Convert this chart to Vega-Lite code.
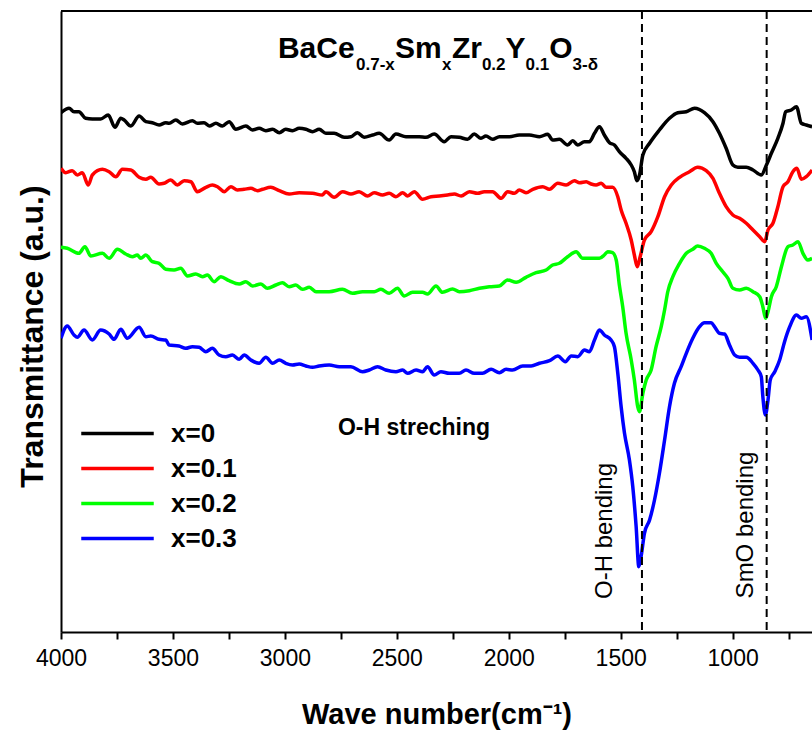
{
 "$schema": "https://vega.github.io/schema/vega-lite/v6.json",
 "width": 751, "height": 621,
 "autosize": "none",
 "padding": {"left": 61, "top": 11, "right": 0, "bottom": 99},
 "config": {"view": {"stroke": null}, "font": "Liberation Sans"},
 "datasets": {
  "spectra": [
{"s":"x=0","wn":4000,"t":519.3},{"s":"x=0","wn":3964,"t":523.7},{"s":"x=0","wn":3942,"t":520.3},{"s":"x=0","wn":3920,"t":520.3},{"s":"x=0","wn":3890,"t":513.7},{"s":"x=0","wn":3860,"t":513},{"s":"x=0","wn":3823,"t":513},{"s":"x=0","wn":3789,"t":517},{"s":"x=0","wn":3759,"t":504.7},{"s":"x=0","wn":3733,"t":513.7},{"s":"x=0","wn":3718,"t":512},{"s":"x=0","wn":3688,"t":506},{"s":"x=0","wn":3651,"t":516},{"s":"x=0","wn":3621,"t":510.3},{"s":"x=0","wn":3592,"t":509.3},{"s":"x=0","wn":3562,"t":507},{"s":"x=0","wn":3532,"t":509.3},{"s":"x=0","wn":3517,"t":508.7},{"s":"x=0","wn":3487,"t":512},{"s":"x=0","wn":3458,"t":508},{"s":"x=0","wn":3413,"t":511.3},{"s":"x=0","wn":3391,"t":508.7},{"s":"x=0","wn":3361,"t":509.3},{"s":"x=0","wn":3338,"t":506},{"s":"x=0","wn":3308,"t":508.7},{"s":"x=0","wn":3279,"t":506},{"s":"x=0","wn":3249,"t":510.3},{"s":"x=0","wn":3219,"t":502.7},{"s":"x=0","wn":3174,"t":506},{"s":"x=0","wn":3145,"t":502},{"s":"x=0","wn":3115,"t":503.7},{"s":"x=0","wn":3085,"t":501.3},{"s":"x=0","wn":3055,"t":502.7},{"s":"x=0","wn":3025,"t":499.3},{"s":"x=0","wn":2996,"t":502.7},{"s":"x=0","wn":2966,"t":501.3},{"s":"x=0","wn":2936,"t":503.7},{"s":"x=0","wn":2906,"t":502.7},{"s":"x=0","wn":2877,"t":500.3},{"s":"x=0","wn":2847,"t":502.7},{"s":"x=0","wn":2817,"t":498.7},{"s":"x=0","wn":2780,"t":498.7},{"s":"x=0","wn":2735,"t":494.7},{"s":"x=0","wn":2705,"t":495.3},{"s":"x=0","wn":2676,"t":499.3},{"s":"x=0","wn":2646,"t":494.7},{"s":"x=0","wn":2608,"t":497},{"s":"x=0","wn":2579,"t":498.7},{"s":"x=0","wn":2534,"t":492},{"s":"x=0","wn":2504,"t":498},{"s":"x=0","wn":2459,"t":495.3},{"s":"x=0","wn":2400,"t":495.3},{"s":"x=0","wn":2370,"t":494.7},{"s":"x=0","wn":2333,"t":498},{"s":"x=0","wn":2288,"t":490.3},{"s":"x=0","wn":2258,"t":495.3},{"s":"x=0","wn":2221,"t":494.7},{"s":"x=0","wn":2184,"t":492.7},{"s":"x=0","wn":2154,"t":498},{"s":"x=0","wn":2124,"t":493.7},{"s":"x=0","wn":2102,"t":496},{"s":"x=0","wn":2072,"t":492.7},{"s":"x=0","wn":2042,"t":495.3},{"s":"x=0","wn":1997,"t":495.3},{"s":"x=0","wn":1953,"t":497},{"s":"x=0","wn":1908,"t":497},{"s":"x=0","wn":1863,"t":495.3},{"s":"x=0","wn":1826,"t":497.7},{"s":"x=0","wn":1804,"t":492},{"s":"x=0","wn":1774,"t":492.7},{"s":"x=0","wn":1737,"t":487},{"s":"x=0","wn":1714,"t":491.3},{"s":"x=0","wn":1692,"t":487},{"s":"x=0","wn":1662,"t":490.3},{"s":"x=0","wn":1640,"t":490.3},{"s":"x=0","wn":1617,"t":498.7},{"s":"x=0","wn":1595,"t":505.3},{"s":"x=0","wn":1573,"t":497},{"s":"x=0","wn":1550,"t":489.3},{"s":"x=0","wn":1528,"t":487},{"s":"x=0","wn":1506,"t":480.3},{"s":"x=0","wn":1476,"t":473.7},{"s":"x=0","wn":1453,"t":467},{"s":"x=0","wn":1439,"t":460.3},{"s":"x=0","wn":1428,"t":451.3},{"s":"x=0","wn":1416,"t":457},{"s":"x=0","wn":1401,"t":477},{"s":"x=0","wn":1371,"t":488.7},{"s":"x=0","wn":1327,"t":502},{"s":"x=0","wn":1282,"t":513.7},{"s":"x=0","wn":1245,"t":519.3},{"s":"x=0","wn":1207,"t":520.3},{"s":"x=0","wn":1170,"t":523.7},{"s":"x=0","wn":1126,"t":519.3},{"s":"x=0","wn":1088,"t":510.3},{"s":"x=0","wn":1059,"t":498.7},{"s":"x=0","wn":1029,"t":483.7},{"s":"x=0","wn":999,"t":467},{"s":"x=0","wn":977,"t":464.7},{"s":"x=0","wn":939,"t":464.7},{"s":"x=0","wn":909,"t":462},{"s":"x=0","wn":872,"t":457},{"s":"x=0","wn":849,"t":467},{"s":"x=0","wn":827,"t":478.7},{"s":"x=0","wn":798,"t":493.7},{"s":"x=0","wn":775,"t":508.7},{"s":"x=0","wn":763,"t":520.3},{"s":"x=0","wn":738,"t":522},{"s":"x=0","wn":715,"t":525.3},{"s":"x=0","wn":693,"t":508.7},{"s":"x=0","wn":671,"t":507},{"s":"x=0","wn":645,"t":505.3},
{"s":"x=0.1","wn":4000,"t":463.7},{"s":"x=0.1","wn":3979,"t":459.3},{"s":"x=0.1","wn":3950,"t":461.3},{"s":"x=0.1","wn":3927,"t":457},{"s":"x=0.1","wn":3905,"t":459.3},{"s":"x=0.1","wn":3878,"t":447},{"s":"x=0.1","wn":3860,"t":457},{"s":"x=0.1","wn":3815,"t":462.7},{"s":"x=0.1","wn":3785,"t":460.3},{"s":"x=0.1","wn":3755,"t":455.3},{"s":"x=0.1","wn":3726,"t":462.7},{"s":"x=0.1","wn":3688,"t":462},{"s":"x=0.1","wn":3651,"t":454.7},{"s":"x=0.1","wn":3621,"t":452.7},{"s":"x=0.1","wn":3599,"t":454.7},{"s":"x=0.1","wn":3562,"t":448},{"s":"x=0.1","wn":3540,"t":448.7},{"s":"x=0.1","wn":3510,"t":452},{"s":"x=0.1","wn":3480,"t":447},{"s":"x=0.1","wn":3450,"t":451.3},{"s":"x=0.1","wn":3420,"t":450.3},{"s":"x=0.1","wn":3391,"t":440.3},{"s":"x=0.1","wn":3353,"t":444.7},{"s":"x=0.1","wn":3324,"t":447},{"s":"x=0.1","wn":3301,"t":445.3},{"s":"x=0.1","wn":3271,"t":440.3},{"s":"x=0.1","wn":3241,"t":445.3},{"s":"x=0.1","wn":3212,"t":442},{"s":"x=0.1","wn":3182,"t":442.7},{"s":"x=0.1","wn":3152,"t":443.7},{"s":"x=0.1","wn":3122,"t":441.3},{"s":"x=0.1","wn":3100,"t":442.7},{"s":"x=0.1","wn":3063,"t":444.7},{"s":"x=0.1","wn":3025,"t":441.3},{"s":"x=0.1","wn":2981,"t":438},{"s":"x=0.1","wn":2936,"t":439.3},{"s":"x=0.1","wn":2877,"t":438.7},{"s":"x=0.1","wn":2832,"t":437},{"s":"x=0.1","wn":2817,"t":440.3},{"s":"x=0.1","wn":2780,"t":434.7},{"s":"x=0.1","wn":2742,"t":440.3},{"s":"x=0.1","wn":2705,"t":438},{"s":"x=0.1","wn":2668,"t":440.3},{"s":"x=0.1","wn":2631,"t":436},{"s":"x=0.1","wn":2601,"t":439.3},{"s":"x=0.1","wn":2564,"t":437},{"s":"x=0.1","wn":2534,"t":438.7},{"s":"x=0.1","wn":2504,"t":435.3},{"s":"x=0.1","wn":2474,"t":439.3},{"s":"x=0.1","wn":2452,"t":436},{"s":"x=0.1","wn":2422,"t":440.3},{"s":"x=0.1","wn":2385,"t":432.7},{"s":"x=0.1","wn":2347,"t":435.3},{"s":"x=0.1","wn":2310,"t":436},{"s":"x=0.1","wn":2273,"t":437},{"s":"x=0.1","wn":2243,"t":438},{"s":"x=0.1","wn":2213,"t":436},{"s":"x=0.1","wn":2176,"t":440.3},{"s":"x=0.1","wn":2139,"t":438.7},{"s":"x=0.1","wn":2109,"t":440.3},{"s":"x=0.1","wn":2072,"t":440.3},{"s":"x=0.1","wn":2034,"t":433.7},{"s":"x=0.1","wn":2005,"t":440.3},{"s":"x=0.1","wn":1975,"t":438.7},{"s":"x=0.1","wn":1953,"t":442},{"s":"x=0.1","wn":1923,"t":439.3},{"s":"x=0.1","wn":1893,"t":442.7},{"s":"x=0.1","wn":1848,"t":445.3},{"s":"x=0.1","wn":1818,"t":442.7},{"s":"x=0.1","wn":1781,"t":448.7},{"s":"x=0.1","wn":1744,"t":447},{"s":"x=0.1","wn":1707,"t":451.3},{"s":"x=0.1","wn":1684,"t":449.3},{"s":"x=0.1","wn":1654,"t":450.3},{"s":"x=0.1","wn":1632,"t":448},{"s":"x=0.1","wn":1610,"t":447},{"s":"x=0.1","wn":1587,"t":448.7},{"s":"x=0.1","wn":1565,"t":444.7},{"s":"x=0.1","wn":1536,"t":444.7},{"s":"x=0.1","wn":1513,"t":435.3},{"s":"x=0.1","wn":1498,"t":422},{"s":"x=0.1","wn":1476,"t":408.7},{"s":"x=0.1","wn":1453,"t":392},{"s":"x=0.1","wn":1439,"t":377},{"s":"x=0.1","wn":1426,"t":365.3},{"s":"x=0.1","wn":1413,"t":375.3},{"s":"x=0.1","wn":1394,"t":392},{"s":"x=0.1","wn":1364,"t":400.3},{"s":"x=0.1","wn":1334,"t":415.3},{"s":"x=0.1","wn":1304,"t":435.3},{"s":"x=0.1","wn":1274,"t":447},{"s":"x=0.1","wn":1237,"t":454.7},{"s":"x=0.1","wn":1193,"t":460.3},{"s":"x=0.1","wn":1156,"t":464.7},{"s":"x=0.1","wn":1118,"t":461.3},{"s":"x=0.1","wn":1088,"t":453.7},{"s":"x=0.1","wn":1059,"t":438.7},{"s":"x=0.1","wn":1029,"t":425.3},{"s":"x=0.1","wn":999,"t":417},{"s":"x=0.1","wn":969,"t":413.7},{"s":"x=0.1","wn":939,"t":408.7},{"s":"x=0.1","wn":909,"t":402},{"s":"x=0.1","wn":879,"t":395.3},{"s":"x=0.1","wn":857,"t":390.3},{"s":"x=0.1","wn":842,"t":402},{"s":"x=0.1","wn":820,"t":408.7},{"s":"x=0.1","wn":798,"t":425.3},{"s":"x=0.1","wn":775,"t":445.3},{"s":"x=0.1","wn":753,"t":450.3},{"s":"x=0.1","wn":731,"t":460.3},{"s":"x=0.1","wn":713,"t":463.7},{"s":"x=0.1","wn":693,"t":452.7},{"s":"x=0.1","wn":671,"t":455.3},{"s":"x=0.1","wn":645,"t":462},
{"s":"x=0.2","wn":4000,"t":384.7},{"s":"x=0.2","wn":3972,"t":383.7},{"s":"x=0.2","wn":3920,"t":378.7},{"s":"x=0.2","wn":3893,"t":385.3},{"s":"x=0.2","wn":3867,"t":376},{"s":"x=0.2","wn":3815,"t":378.7},{"s":"x=0.2","wn":3785,"t":373.7},{"s":"x=0.2","wn":3748,"t":382.7},{"s":"x=0.2","wn":3711,"t":378},{"s":"x=0.2","wn":3681,"t":375.3},{"s":"x=0.2","wn":3659,"t":377},{"s":"x=0.2","wn":3644,"t":373.7},{"s":"x=0.2","wn":3621,"t":377},{"s":"x=0.2","wn":3592,"t":370.3},{"s":"x=0.2","wn":3562,"t":368.7},{"s":"x=0.2","wn":3532,"t":362.7},{"s":"x=0.2","wn":3495,"t":362},{"s":"x=0.2","wn":3465,"t":363.7},{"s":"x=0.2","wn":3435,"t":356},{"s":"x=0.2","wn":3398,"t":358},{"s":"x=0.2","wn":3368,"t":355.3},{"s":"x=0.2","wn":3346,"t":357},{"s":"x=0.2","wn":3316,"t":350.3},{"s":"x=0.2","wn":3286,"t":355.3},{"s":"x=0.2","wn":3249,"t":351.3},{"s":"x=0.2","wn":3204,"t":348},{"s":"x=0.2","wn":3174,"t":350.3},{"s":"x=0.2","wn":3145,"t":346},{"s":"x=0.2","wn":3107,"t":348},{"s":"x=0.2","wn":3078,"t":343.7},{"s":"x=0.2","wn":3040,"t":347},{"s":"x=0.2","wn":3011,"t":349.3},{"s":"x=0.2","wn":2981,"t":345.3},{"s":"x=0.2","wn":2951,"t":347},{"s":"x=0.2","wn":2921,"t":342.7},{"s":"x=0.2","wn":2891,"t":344.7},{"s":"x=0.2","wn":2861,"t":340.3},{"s":"x=0.2","wn":2802,"t":340.3},{"s":"x=0.2","wn":2743,"t":342.7},{"s":"x=0.2","wn":2698,"t":338.7},{"s":"x=0.2","wn":2653,"t":340.3},{"s":"x=0.2","wn":2601,"t":340.3},{"s":"x=0.2","wn":2571,"t":342.7},{"s":"x=0.2","wn":2534,"t":338.7},{"s":"x=0.2","wn":2497,"t":343.7},{"s":"x=0.2","wn":2467,"t":336},{"s":"x=0.2","wn":2430,"t":339.7},{"s":"x=0.2","wn":2385,"t":339.7},{"s":"x=0.2","wn":2363,"t":338},{"s":"x=0.2","wn":2325,"t":346},{"s":"x=0.2","wn":2296,"t":339.7},{"s":"x=0.2","wn":2251,"t":343},{"s":"x=0.2","wn":2221,"t":340.3},{"s":"x=0.2","wn":2176,"t":341.3},{"s":"x=0.2","wn":2131,"t":343.7},{"s":"x=0.2","wn":2087,"t":345.3},{"s":"x=0.2","wn":2042,"t":346},{"s":"x=0.2","wn":2005,"t":352},{"s":"x=0.2","wn":1967,"t":349.7},{"s":"x=0.2","wn":1923,"t":354.7},{"s":"x=0.2","wn":1878,"t":359.3},{"s":"x=0.2","wn":1833,"t":362},{"s":"x=0.2","wn":1804,"t":367},{"s":"x=0.2","wn":1774,"t":368.7},{"s":"x=0.2","wn":1737,"t":375.3},{"s":"x=0.2","wn":1699,"t":380.3},{"s":"x=0.2","wn":1670,"t":373.7},{"s":"x=0.2","wn":1654,"t":373.7},{"s":"x=0.2","wn":1625,"t":373.7},{"s":"x=0.2","wn":1595,"t":373.7},{"s":"x=0.2","wn":1573,"t":377},{"s":"x=0.2","wn":1558,"t":380.3},{"s":"x=0.2","wn":1536,"t":379.3},{"s":"x=0.2","wn":1520,"t":372},{"s":"x=0.2","wn":1506,"t":347},{"s":"x=0.2","wn":1491,"t":325.3},{"s":"x=0.2","wn":1476,"t":298.7},{"s":"x=0.2","wn":1453,"t":272},{"s":"x=0.2","wn":1439,"t":252},{"s":"x=0.2","wn":1424,"t":225.3},{"s":"x=0.2","wn":1416,"t":220.3},{"s":"x=0.2","wn":1401,"t":238.7},{"s":"x=0.2","wn":1386,"t":252},{"s":"x=0.2","wn":1364,"t":262},{"s":"x=0.2","wn":1342,"t":285.3},{"s":"x=0.2","wn":1319,"t":305.3},{"s":"x=0.2","wn":1304,"t":322},{"s":"x=0.2","wn":1290,"t":340},{"s":"x=0.2","wn":1267,"t":355.3},{"s":"x=0.2","wn":1237,"t":368.7},{"s":"x=0.2","wn":1207,"t":378.7},{"s":"x=0.2","wn":1178,"t":382.7},{"s":"x=0.2","wn":1156,"t":386},{"s":"x=0.2","wn":1126,"t":383.7},{"s":"x=0.2","wn":1096,"t":378.7},{"s":"x=0.2","wn":1073,"t":368.7},{"s":"x=0.2","wn":1044,"t":360.3},{"s":"x=0.2","wn":1021,"t":353.7},{"s":"x=0.2","wn":999,"t":343.7},{"s":"x=0.2","wn":969,"t":342},{"s":"x=0.2","wn":939,"t":343.7},{"s":"x=0.2","wn":909,"t":340.3},{"s":"x=0.2","wn":879,"t":335.3},{"s":"x=0.2","wn":865,"t":325.3},{"s":"x=0.2","wn":853,"t":313.7},{"s":"x=0.2","wn":842,"t":320.3},{"s":"x=0.2","wn":827,"t":335.3},{"s":"x=0.2","wn":805,"t":345.3},{"s":"x=0.2","wn":782,"t":365.3},{"s":"x=0.2","wn":753,"t":385.3},{"s":"x=0.2","wn":731,"t":387},{"s":"x=0.2","wn":708,"t":390.3},{"s":"x=0.2","wn":686,"t":378.7},{"s":"x=0.2","wn":664,"t":372},{"s":"x=0.2","wn":645,"t":373.7},
{"s":"x=0.3","wn":4000,"t":293.7},{"s":"x=0.3","wn":3972,"t":306},{"s":"x=0.3","wn":3942,"t":297},{"s":"x=0.3","wn":3927,"t":294.7},{"s":"x=0.3","wn":3897,"t":302},{"s":"x=0.3","wn":3860,"t":292},{"s":"x=0.3","wn":3823,"t":302},{"s":"x=0.3","wn":3785,"t":298},{"s":"x=0.3","wn":3763,"t":292.7},{"s":"x=0.3","wn":3733,"t":302.7},{"s":"x=0.3","wn":3704,"t":293.7},{"s":"x=0.3","wn":3651,"t":304.7},{"s":"x=0.3","wn":3621,"t":295.3},{"s":"x=0.3","wn":3599,"t":296},{"s":"x=0.3","wn":3562,"t":292.7},{"s":"x=0.3","wn":3532,"t":292},{"s":"x=0.3","wn":3517,"t":287},{"s":"x=0.3","wn":3473,"t":286},{"s":"x=0.3","wn":3443,"t":283.7},{"s":"x=0.3","wn":3413,"t":285.3},{"s":"x=0.3","wn":3383,"t":284.7},{"s":"x=0.3","wn":3353,"t":280.3},{"s":"x=0.3","wn":3324,"t":283.7},{"s":"x=0.3","wn":3294,"t":277},{"s":"x=0.3","wn":3264,"t":275.3},{"s":"x=0.3","wn":3234,"t":277},{"s":"x=0.3","wn":3204,"t":272.7},{"s":"x=0.3","wn":3182,"t":277},{"s":"x=0.3","wn":3152,"t":272},{"s":"x=0.3","wn":3115,"t":268.7},{"s":"x=0.3","wn":3085,"t":274.7},{"s":"x=0.3","wn":3055,"t":268.7},{"s":"x=0.3","wn":3025,"t":272},{"s":"x=0.3","wn":2996,"t":268.7},{"s":"x=0.3","wn":2966,"t":267},{"s":"x=0.3","wn":2936,"t":268},{"s":"x=0.3","wn":2906,"t":266},{"s":"x=0.3","wn":2877,"t":264.7},{"s":"x=0.3","wn":2847,"t":266},{"s":"x=0.3","wn":2802,"t":267},{"s":"x=0.3","wn":2757,"t":265.3},{"s":"x=0.3","wn":2705,"t":265.3},{"s":"x=0.3","wn":2653,"t":260.3},{"s":"x=0.3","wn":2623,"t":262},{"s":"x=0.3","wn":2586,"t":265.3},{"s":"x=0.3","wn":2549,"t":262},{"s":"x=0.3","wn":2504,"t":260.3},{"s":"x=0.3","wn":2474,"t":262},{"s":"x=0.3","wn":2452,"t":258.7},{"s":"x=0.3","wn":2414,"t":262},{"s":"x=0.3","wn":2385,"t":260.3},{"s":"x=0.3","wn":2363,"t":265.3},{"s":"x=0.3","wn":2333,"t":257},{"s":"x=0.3","wn":2303,"t":260.3},{"s":"x=0.3","wn":2266,"t":258.7},{"s":"x=0.3","wn":2221,"t":258.7},{"s":"x=0.3","wn":2191,"t":262},{"s":"x=0.3","wn":2154,"t":258.7},{"s":"x=0.3","wn":2117,"t":258.7},{"s":"x=0.3","wn":2079,"t":262.7},{"s":"x=0.3","wn":2042,"t":259.3},{"s":"x=0.3","wn":2012,"t":262.7},{"s":"x=0.3","wn":1983,"t":262},{"s":"x=0.3","wn":1938,"t":266},{"s":"x=0.3","wn":1900,"t":266},{"s":"x=0.3","wn":1863,"t":268.7},{"s":"x=0.3","wn":1818,"t":271.3},{"s":"x=0.3","wn":1781,"t":276},{"s":"x=0.3","wn":1747,"t":270.3},{"s":"x=0.3","wn":1721,"t":276},{"s":"x=0.3","wn":1692,"t":275.3},{"s":"x=0.3","wn":1662,"t":282},{"s":"x=0.3","wn":1640,"t":280.3},{"s":"x=0.3","wn":1617,"t":292},{"s":"x=0.3","wn":1595,"t":302},{"s":"x=0.3","wn":1573,"t":297},{"s":"x=0.3","wn":1543,"t":292},{"s":"x=0.3","wn":1528,"t":285.3},{"s":"x=0.3","wn":1513,"t":258.7},{"s":"x=0.3","wn":1498,"t":225.3},{"s":"x=0.3","wn":1483,"t":198.7},{"s":"x=0.3","wn":1461,"t":172},{"s":"x=0.3","wn":1446,"t":145.3},{"s":"x=0.3","wn":1431,"t":105.3},{"s":"x=0.3","wn":1419,"t":65.3},{"s":"x=0.3","wn":1409,"t":75.3},{"s":"x=0.3","wn":1394,"t":98.7},{"s":"x=0.3","wn":1371,"t":112},{"s":"x=0.3","wn":1349,"t":132},{"s":"x=0.3","wn":1327,"t":158.7},{"s":"x=0.3","wn":1304,"t":192},{"s":"x=0.3","wn":1282,"t":225.3},{"s":"x=0.3","wn":1260,"t":248.7},{"s":"x=0.3","wn":1230,"t":265.3},{"s":"x=0.3","wn":1207,"t":278.7},{"s":"x=0.3","wn":1178,"t":293.7},{"s":"x=0.3","wn":1148,"t":305.3},{"s":"x=0.3","wn":1126,"t":309.3},{"s":"x=0.3","wn":1096,"t":309.3},{"s":"x=0.3","wn":1081,"t":305.3},{"s":"x=0.3","wn":1059,"t":298.7},{"s":"x=0.3","wn":1036,"t":298},{"s":"x=0.3","wn":1014,"t":287},{"s":"x=0.3","wn":991,"t":277},{"s":"x=0.3","wn":969,"t":274.7},{"s":"x=0.3","wn":939,"t":274.7},{"s":"x=0.3","wn":909,"t":268.7},{"s":"x=0.3","wn":887,"t":262},{"s":"x=0.3","wn":872,"t":255.3},{"s":"x=0.3","wn":865,"t":235.3},{"s":"x=0.3","wn":854,"t":217},{"s":"x=0.3","wn":842,"t":232},{"s":"x=0.3","wn":832,"t":252},{"s":"x=0.3","wn":812,"t":260.3},{"s":"x=0.3","wn":790,"t":272},{"s":"x=0.3","wn":768,"t":290.3},{"s":"x=0.3","wn":745,"t":305.3},{"s":"x=0.3","wn":715,"t":317},{"s":"x=0.3","wn":693,"t":313.7},{"s":"x=0.3","wn":671,"t":315.3},{"s":"x=0.3","wn":645,"t":292}
  ],
  "bands": [{"wn": 1405}, {"wn": 848}],
  "frame": [{"t": 621}],
  "formula": [
   {"label": "BaCe", "wn": 3031, "t": 574},
   {"label": "Sm", "wn": 2508, "t": 574},
   {"label": "Zr", "wn": 2254, "t": 574},
   {"label": "Y", "wn": 2014, "t": 574},
   {"label": "O", "wn": 1819, "t": 574}
  ],
  "subs": [
   {"label": "0.7-x", "wn": 2682, "t": 562},
   {"label": "x", "wn": 2298, "t": 562},
   {"label": "0.2", "wn": 2120, "t": 562},
   {"label": "0.1", "wn": 1925, "t": 562},
   {"label": "3-δ", "wn": 1715, "t": 562}
  ],
  "note": [{"label": "O-H streching", "wn": 2763, "t": 197}],
  "vert": [
   {"label": "O-H bending", "wn": 1570, "t": 101},
   {"label": "SmO bending", "wn": 940, "t": 107}
  ]
 },
 "layer": [
  {
   "data": {"name": "spectra"},
   "mark": {"type": "line", "strokeWidth": 3.5, "clip": true, "interpolate": "monotone"},
   "encoding": {
    "x": {"field": "wn", "type": "quantitative",
     "scale": {"domain": [645.5, 4000], "reverse": true, "nice": false, "zero": false},
     "axis": {"title": "Wave number(cm⁻¹)", "values": [4000,3750,3500,3250,3000,2750,2500,2250,2000,1750,1500,1250,1000,750],
      "format": "d", "labelExpr": "datum.value % 500 === 0 ? datum.label : ''",
      "grid": false, "domainColor": "#000", "domainWidth": 2, "tickColor": "#000", "tickWidth": 2, "tickSize": 7,
      "labelFont": "Liberation Sans", "labelFontSize": 23, "labelColor": "#000", "labelPadding": 8,
      "labelFlush": false, "labelOverlap": false, "labelBound": false,
      "titleFont": "Liberation Sans", "titleFontSize": 29, "titleFontWeight": "bold", "titleColor": "#000",
      "titleBaseline": "alphabetic", "titleY": 91}},
    "y": {"field": "t", "type": "quantitative",
     "scale": {"domain": [0, 621], "nice": false, "zero": false},
     "axis": {"title": "Transmittance (a.u.)", "grid": false, "ticks": false, "labels": false,
      "domainColor": "#000", "domainWidth": 2,
      "titleFont": "Liberation Sans", "titleFontSize": 32, "titleFontWeight": "bold", "titleColor": "#000",
      "titleAngle": 270, "titleAlign": "center", "titleBaseline": "alphabetic", "titleX": -19, "titleY": 325}},
    "color": {"field": "s", "type": "nominal",
     "scale": {"domain": ["x=0", "x=0.1", "x=0.2", "x=0.3"], "range": ["#000000", "#ff0000", "#00ff00", "#0000ff"]},
     "legend": {"orient": "none", "legendX": 40, "legendY": 406, "title": null, "symbolType": "M-2.5,0H2.5",
      "symbolSize": 841, "symbolStrokeWidth": 3.5, "labelFontSize": 26, "labelFontWeight": "bold",
      "labelFont": "Liberation Sans", "labelColor": "#000", "labelOffset": 37, "rowPadding": 5, "padding": 0}}
   }
  },
  {
   "data": {"name": "bands"},
   "mark": {"type": "rule", "color": "#000", "strokeWidth": 2, "strokeDash": [8, 5]},
   "encoding": {"x": {"field": "wn", "type": "quantitative"}}
  },
  {
   "data": {"name": "frame"},
   "mark": {"type": "rule", "color": "#000", "strokeWidth": 2},
   "encoding": {"y": {"field": "t", "type": "quantitative"}}
  },
  {
   "data": {"name": "formula"},
   "mark": {"type": "text", "align": "left", "baseline": "alphabetic", "fontSize": 30, "fontWeight": "bold", "color": "#000", "font": "Liberation Sans"},
   "encoding": {"x": {"field": "wn", "type": "quantitative"}, "y": {"field": "t", "type": "quantitative"}, "text": {"field": "label"}}
  },
  {
   "data": {"name": "subs"},
   "mark": {"type": "text", "align": "left", "baseline": "alphabetic", "fontSize": 17, "fontWeight": "bold", "color": "#000", "font": "Liberation Sans"},
   "encoding": {"x": {"field": "wn", "type": "quantitative"}, "y": {"field": "t", "type": "quantitative"}, "text": {"field": "label"}}
  },
  {
   "data": {"name": "note"},
   "mark": {"type": "text", "align": "left", "baseline": "alphabetic", "fontSize": 23, "fontWeight": "bold", "color": "#000", "font": "Liberation Sans"},
   "encoding": {"x": {"field": "wn", "type": "quantitative"}, "y": {"field": "t", "type": "quantitative"}, "text": {"field": "label"}}
  },
  {
   "data": {"name": "vert"},
   "mark": {"type": "text", "align": "center", "baseline": "middle", "angle": 270, "fontSize": 24, "color": "#000", "font": "Liberation Sans"},
   "encoding": {"x": {"field": "wn", "type": "quantitative"}, "y": {"field": "t", "type": "quantitative"}, "text": {"field": "label"}}
  }
 ]
}
